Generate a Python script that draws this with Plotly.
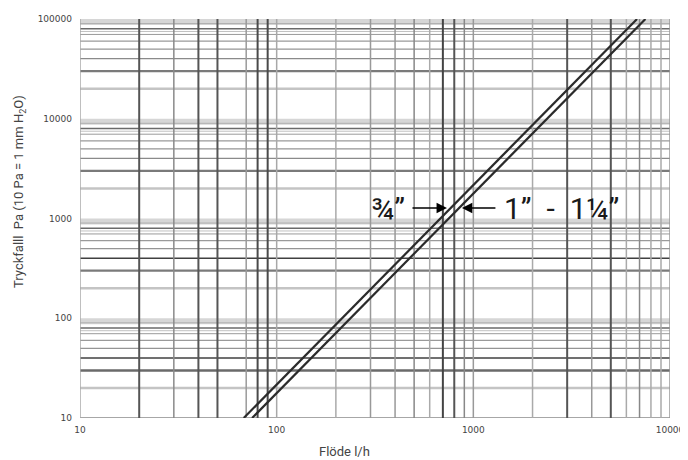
import math
import plotly.graph_objects as go

# ---- data ----
pressure_pa = [10, 1000, 100000]          # Tryckfall, Pa
flow_34 = [68, 680, 6800]                 # 3/4"  flow l/h
flow_1_114 = [75, 750, 7500]              # 1" - 1 1/4"  flow l/h

x_tick_vals = [10, 100, 1000, 10000]
x_tick_text = ["10", "100", "1000", "10000"]
y_tick_vals = [10, 100, 1000, 10000, 100000]
y_tick_text = ["10", "100", "1000", "10000", "100000"]

# vertical grid lines (flow values) as printed on the chart
v_grid_vals = [10, 20, 30, 40, 50, 70, 80, 90, 100,
               200, 300, 400, 500, 600, 700, 800, 900, 1000,
               2000, 3000, 4000, 5000, 6000, 7000, 8000, 9000, 10000]
v_grid_col = ["#aaaaaa", "#555555", "#8a8a8a", "#555555", "#555555", "#9a9a9a", "#4a4a4a", "#4a4a4a", "#a8a8a8",
              "#aaaaaa", "#999999", "#999999", "#888888", "#aaaaaa", "#444444", "#555555", "#888888", "#999999",
              "#aaaaaa", "#555555", "#999999", "#555555", "#aaaaaa", "#888888", "#aaaaaa", "#aaaaaa", "#999999"]
v_grid_w = [1.5, 2, 1.5, 2, 2, 1.5, 2, 2, 1.5,
            1.5, 1.5, 1.5, 1.5, 1.5, 2, 2, 1.5, 1.5,
            1.5, 2, 1.5, 2, 1.5, 1.5, 1.5, 1.5, 1.5]

# horizontal grid: per-decade pattern
decade_tops = [100, 1000, 10000, 100000]
h_mult = [0.9, 0.8, 0.75, 0.7, 0.6, 0.5, 0.4, 0.3, 0.2]
h_col = ["#b0b0b0", "#6a6a6a", "#c0c0c0", "#9a9a9a", "#9a9a9a", "#959595", "#8a8a8a", "#7a7a7a", "#c4c4c4"]
h_w = [1, 1.5, 1, 1, 1.2, 1.2, 1.2, 2.2, 2.5]
h_override = {40: ("#404040", 1.5), 400: ("#404040", 1.5), 30: ("#6a6a6a", 2.5)}
band_low = 0.87

fig = go.Figure()

shapes = []
for top in decade_tops:
    shapes.append(dict(type="rect", xref="x", yref="y", x0=10, x1=10000,
                       y0=top * band_low, y1=top, fillcolor="#d6d6d6",
                       line=dict(width=0), layer="below"))
    for m, c, w in zip(h_mult, h_col, h_w):
        v = round(top * m, 6)
        key = int(round(v))
        if key in h_override:
            c, w = h_override[key]
        shapes.append(dict(type="line", xref="x", yref="y", x0=10, x1=10000,
                           y0=v, y1=v, line=dict(color=c, width=w), layer="below"))
# bottom border
shapes.append(dict(type="line", xref="x", yref="y", x0=10, x1=10000, y0=10, y1=10,
                   line=dict(color="#8a8a8a", width=1.5), layer="below"))
for v, c, w in zip(v_grid_vals, v_grid_col, v_grid_w):
    shapes.append(dict(type="line", xref="x", yref="y", x0=v, x1=v, y0=10, y1=100000,
                       line=dict(color=c, width=w), layer="below"))

fig.add_trace(go.Scatter(x=flow_34, y=pressure_pa, mode="lines",
                         line=dict(color="#2b2b2b", width=2.2), name='3/4"',
                         showlegend=False, hoverinfo="skip"))
fig.add_trace(go.Scatter(x=flow_1_114, y=pressure_pa, mode="lines",
                         line=dict(color="#2b2b2b", width=2.2), name='1" - 1 1/4"',
                         showlegend=False, hoverinfo="skip"))

label_y = 3.105  # log10 position of the size labels
label_font = dict(family="Roboto", size=30, color="#1a1a1a", weight=400)
annotations = [
    dict(x=math.log10(460), y=label_y, xref="x", yref="y", text="¾”", showarrow=False,
         xanchor="right", yanchor="middle", font=label_font),
    dict(x=math.log10(1400), y=label_y, xref="x", yref="y", text="1”  -  1¼”", showarrow=False,
         xanchor="left", yanchor="middle", font=label_font),
    dict(x=2.866, y=label_y, xref="x", yref="y", text="", showarrow=True, ax=-36, ay=0,
         arrowhead=2, arrowsize=1.3, arrowwidth=1.6, arrowcolor="#000000", standoff=0),
    dict(x=2.942, y=label_y, xref="x", yref="y", text="", showarrow=True, ax=35, ay=0,
         arrowhead=2, arrowsize=1.3, arrowwidth=1.6, arrowcolor="#000000", standoff=0),
    dict(x=0.449, y=-0.085, xref="paper", yref="paper", text="Flöde l/h", showarrow=False,
         xanchor="center", yanchor="middle", font=dict(family="Roboto", size=13, color="#444444")),
    dict(x=-0.1017, y=0.569, xref="paper", yref="paper",
         text="Tryckfalll  Pa (10 Pa = 1 mm H<sub>2</sub>O)", showarrow=False, textangle=-90,
         xanchor="center", yanchor="middle", font=dict(family="Roboto", size=13, color="#444444")),
]

# page body has an 8px margin, so the figure is sized to fit the 688x460 window
fig.update_layout(
    width=680, height=452,
    margin=dict(l=72, r=18, t=11, b=42, autoexpand=False),
    paper_bgcolor="white", plot_bgcolor="white",
    shapes=shapes, annotations=annotations, showlegend=False,
    xaxis=dict(type="log", range=[1, 4], showgrid=False, zeroline=False, showline=False,
               tickvals=x_tick_vals, ticktext=x_tick_text, ticks="", ticklabelstandoff=5,
               tickfont=dict(family="DejaVu Sans", size=9, color="#444444")),
    yaxis=dict(type="log", range=[1, 5], showgrid=False, zeroline=False, showline=False,
               tickvals=y_tick_vals, ticktext=y_tick_text, ticks="", ticklabelstandoff=7,
               tickfont=dict(family="DejaVu Sans", size=9, color="#444444")),
)

fig.write_html("out.html")
